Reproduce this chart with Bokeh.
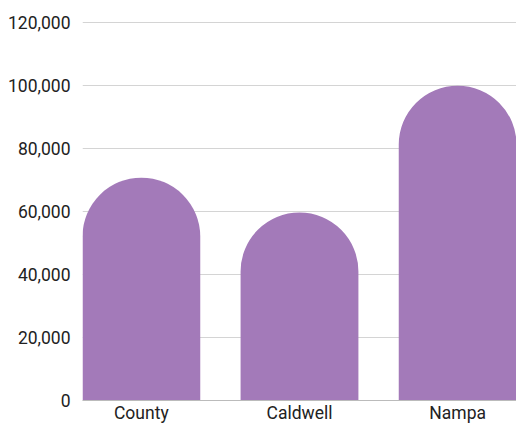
from bokeh.plotting import figure
from bokeh.models import Range1d, FactorRange, NumeralTickFormatter, FixedTicker
from bokeh.embed import file_html
from bokeh.resources import INLINE

categories = ["County", "Caldwell", "Nampa"]
values = [70800, 59700, 100000]
y_ticks = [0, 20000, 40000, 60000, 80000, 100000, 120000]

FONT = "Roboto"
BAR = "#a37ab9"

p = figure(
    x_range=FactorRange(factors=categories, range_padding=-0.128,
                        range_padding_units="absolute"),
    y_range=Range1d(0, 120400),
    width=516, height=425,
    output_backend="svg", toolbar_location=None,
    min_border_left=82, min_border_right=0, min_border_top=21, min_border_bottom=25,
)
p.outline_line_color = None
p.background_fill_color = "white"
p.border_fill_color = "white"

p.vbar(x=categories, top=values, width=0.745, bottom=0,
       fill_color=BAR, line_color=None,
       border_radius=(59, 59, 0, 0))

p.yaxis.ticker = FixedTicker(ticks=y_ticks)
p.yaxis.formatter = NumeralTickFormatter(format="0,0")
p.yaxis.axis_line_color = None
p.yaxis.major_tick_line_color = None
p.yaxis.minor_tick_line_color = None
p.yaxis.major_tick_out = 0
p.yaxis.major_tick_in = 0
p.yaxis.major_label_standoff = 12
p.yaxis.major_label_text_font = FONT
p.yaxis.major_label_text_font_size = "17.5px"
p.yaxis.major_label_text_color = "#222222"

p.xaxis.axis_line_color = "#bbbbbb"
p.xaxis.major_tick_line_color = None
p.xaxis.minor_tick_line_color = None
p.xaxis.major_tick_out = 0
p.xaxis.major_tick_in = 0
p.xaxis.major_label_standoff = 2
p.xaxis.major_label_text_font = FONT
p.xaxis.major_label_text_font_size = "17.5px"
p.xaxis.major_label_text_color = "#222222"

p.xgrid.grid_line_color = None
p.ygrid.grid_line_color = "#d4d4d4"
p.ygrid.grid_line_width = 1

open("out.html", "w").write(file_html(p, INLINE))
